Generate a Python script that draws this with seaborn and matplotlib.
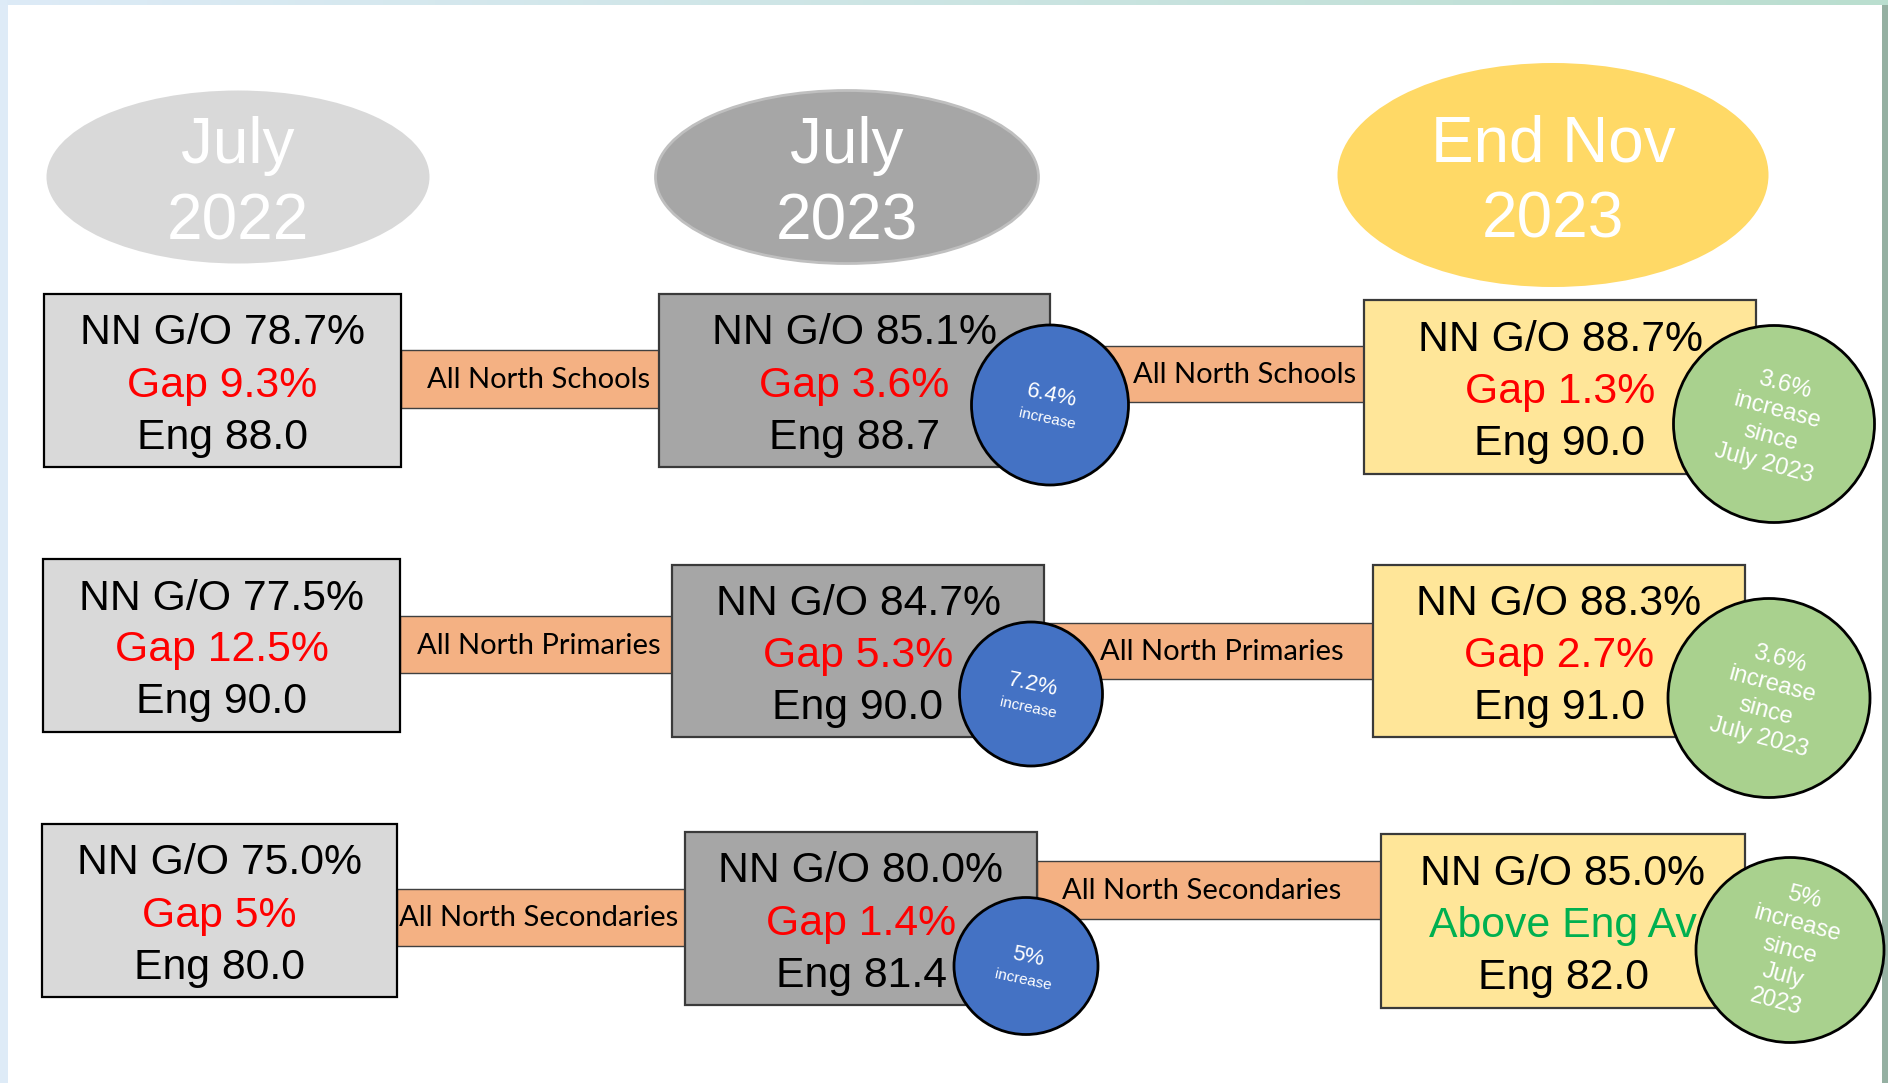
import matplotlib
matplotlib.use("Agg")
import matplotlib.pyplot as plt
from matplotlib.patches import Rectangle, Ellipse
from matplotlib.colors import LinearSegmentedColormap
import numpy as np
import seaborn as sns

# Data
periods = [("July", "2022"), ("July", "2023"), ("End Nov", "2023")]
groups = ["All North Schools", "All North Primaries", "All North Secondaries"]

go_jul22 = [78.7, 77.5, 75.0]
gap_jul22 = [9.3, 12.5, 5]
eng_jul22 = [88.0, 90.0, 80.0]

go_jul23 = [85.1, 84.7, 80.0]
gap_jul23 = [3.6, 5.3, 1.4]
eng_jul23 = [88.7, 90.0, 81.4]

go_nov23 = [88.7, 88.3, 85.0]
gap_nov23 = [1.3, 2.7, None]   # None -> above England average
eng_nov23 = [90.0, 91.0, 82.0]

rise_jul23 = ["6.4%", "7.2%", "5%"]
rise_nov23 = ["3.6%\nincrease\nsince\nJuly 2023",
              "3.6%\nincrease\nsince\nJuly 2023",
              "5%\nincrease\nsince\nJuly\n2023"]

# Layout (pixels, y down)
W, H = 1888, 1083
head_xy = [(238, 177), (847, 177), (1553, 175)]
head_wh = [(383, 173), (383, 173), (431, 224)]
head_fill = ["#D9D9D9", "#A6A6A6", "#FFD966"]

# boxes per row: (x0, x1, y0, y1) for the three columns
boxes = [
    [(44, 401, 294, 467), (659, 1050, 294, 467), (1364, 1756, 300, 474)],
    [(43, 400, 559, 732), (672, 1044, 565, 737), (1373, 1745, 565, 737)],
    [(42, 397, 824, 997), (685, 1037, 832, 1005), (1381, 1745, 834, 1008)],
]
box_fill = ["#D9D9D9", "#A6A6A6", "#FFE699"]
box_edge = ["#000000", "#3A3A3A", "#3A3A3A"]

# connectors per row: (x0, x1, y0, y1), label x
conns = [
    [(401, 659, 350, 408, 539), (1050, 1365, 346, 402, 1245)],
    [(400, 672, 616, 673, 539), (1044, 1373, 623, 679, 1222)],
    [(397, 685, 889, 946, 539), (1037, 1381, 861, 919, 1202)],
]
blue_c = [(1050, 405, 157, 160), (1031, 694, 143, 144), (1026, 966, 144, 137)]
green_c = [(1774, 424, 201, 197), (1769, 698, 202, 199), (1790, 950, 188, 185)]

sns.set_theme(style="white")
plt.rcParams["font.family"] = ["Liberation Sans", "DejaVu Sans"]

fig = plt.figure(figsize=(W / 100, H / 100), dpi=100)
ax = fig.add_axes([0, 0, 1, 1])

# frame strips
ax.add_patch(Rectangle((0, 0), 8, H, facecolor="#DEEBF7", edgecolor="none", zorder=0))
ax.add_patch(Rectangle((1882, 0), 6, H, facecolor="#95B0A2", edgecolor="none", zorder=0))
grad = LinearSegmentedColormap.from_list("top", ["#DDEBF7", "#BADECF"])
ax.imshow(np.linspace(0, 1, 256)[None, :], cmap=grad, aspect="auto",
          extent=(0, W, 5, 0), zorder=0)
ax.set_xlim(0, W)
ax.set_ylim(H, 0)
ax.axis("off")

# period headers
for (cx, cy), (ew, eh), fc, (l1, l2), ec in zip(head_xy, head_wh, head_fill, periods,
                                                ["none", "#BFBFBF", "none"]):
    ax.add_patch(Ellipse((cx, cy), ew, eh, facecolor=fc, edgecolor=ec, lw=2, zorder=1))
    ax.text(cx, cy - 14, l1, color="white", fontsize=46, ha="center", va="baseline",
            zorder=2)
    ax.text(cx, cy + 63, l2, color="white", fontsize=46, ha="center", va="baseline",
            zorder=2)

cols = [(go_jul22, gap_jul22, eng_jul22), (go_jul23, gap_jul23, eng_jul23),
        (go_nov23, gap_nov23, eng_nov23)]

for r in range(3):
    # connectors
    for x0, x1, y0, y1, lx in conns[r]:
        ax.add_patch(Rectangle((x0, y0), x1 - x0, y1 - y0, facecolor="#F4B183",
                               edgecolor="#404040", lw=1, zorder=1))
        ax.text(lx, (y0 + y1) / 2 + 1, groups[r], fontsize=21, family=["Lato", "DejaVu Sans"],
                ha="center", va="center", color="black", zorder=2)
    # boxes
    for c in range(3):
        x0, x1, y0, y1 = boxes[r][c]
        ax.add_patch(Rectangle((x0, y0), x1 - x0, y1 - y0, facecolor=box_fill[c],
                               edgecolor=box_edge[c], lw=1.6, zorder=2))
        go, gap, eng = cols[c][0][r], cols[c][1][r], cols[c][2][r]
        cx, cy = (x0 + x1) / 2, (y0 + y1) / 2 + 5
        ax.text(cx, cy - 52, f"NN G/O {go:.1f}%", fontsize=30.8, ha="center",
                va="center", color="black", zorder=3)
        if gap is None:
            ax.text(cx, cy, "Above Eng Av", fontsize=30.8, ha="center", va="center",
                    color="#00B050", zorder=3)
        else:
            ax.text(cx, cy, f"Gap {gap:g}%", fontsize=30.8, ha="center", va="center",
                    color="#FF0000", zorder=3)
        ax.text(cx, cy + 52, f"Eng {eng:.1f}", fontsize=30.8, ha="center",
                va="center", color="black", zorder=3)

    # blue increase circles
    bx, by, bw, bh = blue_c[r]
    ax.add_patch(Ellipse((bx, by), bw, bh, facecolor="#4472C4", edgecolor="black",
                         lw=2, zorder=4))
    ax.text(bx + 2, by - 9, rise_jul23[r], fontsize=16, color="white", rotation=-12,
            ha="center", va="center", zorder=5)
    ax.text(bx - 3, by + 14, "increase", fontsize=11, color="white", rotation=-12,
            ha="center", va="center", zorder=5)

    # green increase circles
    gx, gy, gw, gh = green_c[r]
    ax.add_patch(Ellipse((gx, gy), gw, gh, facecolor="#A9D18E", edgecolor="black",
                         lw=2, zorder=4))
    ax.text(gx, gy, rise_nov23[r], fontsize=17, color="white", rotation=-15,
            ha="center", va="center", multialignment="center", linespacing=1.3,
            rotation_mode="anchor", zorder=5)

fig.savefig("out.png", dpi=100)
